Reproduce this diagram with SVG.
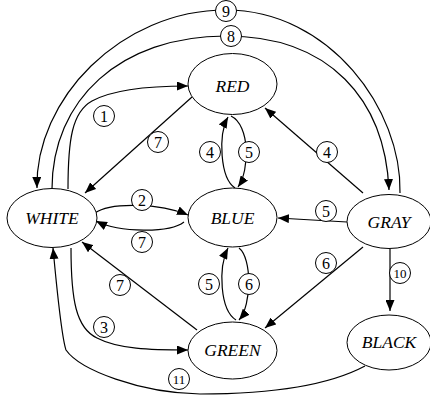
<svg xmlns="http://www.w3.org/2000/svg" width="430" height="405" viewBox="0 0 430 405">
  <defs>
    <marker id="arrow" markerUnits="userSpaceOnUse" markerWidth="11" markerHeight="9" refX="11" refY="4.5" orient="auto">
      <path d="M0,0 L11,4.5 L0,9 z" fill="#000"/>
    </marker>
    <style>
      .node ellipse { fill: #fff; stroke: #000; stroke-width: 1; }
      .node text { font-family: "Liberation Serif", "Times New Roman", serif; font-style: italic; font-size: 17.5px; text-anchor: middle; fill: #000; }
      .edge { fill: none; stroke: #000; stroke-width: 1.2; marker-end: url(#arrow); }
      .tag circle { fill: #fff; stroke: #000; stroke-width: 1; }
      .tag text { font-family: "Liberation Serif", "Times New Roman", serif; font-size: 16px; text-anchor: middle; fill: #000; }
      .tag text.two { font-size: 13px; }
    </style>
  </defs>
  <rect width="430" height="405" fill="#fff"/>

  <!-- connectors -->
  <g id="connectors">
    <!-- 9: GRAY -> WHITE (outer arc) -->
    <path class="edge" d="M400,193 C402,110 330,10 226,10 C120,10 35,100 37,188"/>
    <!-- 8: WHITE -> GRAY -->
    <path class="edge" d="M52,189 C52,100 120,36 226,36 C330,36 385,100 389,190"/>
    <!-- 1: WHITE -> RED -->
    <path class="edge" d="M68,189 C68,140 72,112 92,101 C112,90 150,86 188,86"/>
    <!-- 7: RED -> WHITE -->
    <path class="edge" d="M192,97 L85,193"/>
    <!-- 4: BLUE -> RED -->
    <path class="edge" d="M235,188 C220,178 218,135 228,117"/>
    <!-- 5: RED -> BLUE -->
    <path class="edge" d="M231,116 C250,125 250,170 238,187"/>
    <!-- 4: GRAY -> RED -->
    <path class="edge" d="M363,193 L265,108"/>
    <!-- 2: WHITE -> BLUE -->
    <path class="edge" d="M95,213 C110,202 160,203 188,215"/>
    <!-- 7: BLUE -> WHITE -->
    <path class="edge" d="M184,222 C170,233 120,233 96,221"/>
    <!-- 5: GRAY -> BLUE -->
    <path class="edge" d="M347,222 L278,218"/>
    <!-- 6: GRAY -> GREEN -->
    <path class="edge" d="M363,247 L265,328"/>
    <!-- 10: GRAY -> BLACK -->
    <path class="edge" d="M390,249 L390,311"/>
    <!-- 5: GREEN -> BLUE -->
    <path class="edge" d="M236,320 C220,310 218,268 228,248"/>
    <!-- 6: BLUE -> GREEN -->
    <path class="edge" d="M239,248 C252,258 252,305 239,320"/>
    <!-- 7: GREEN -> WHITE -->
    <path class="edge" d="M197,330 L82,242"/>
    <!-- 3: WHITE -> GREEN -->
    <path class="edge" d="M71,248 C71,300 76,328 97,338 C118,349 150,350 188,350"/>
    <!-- 11: BLACK -> WHITE -->
    <path class="edge" d="M365,366 C320,390 250,394 200,394 C140,393 80,370 66,350 C61,335 57,290 53,248"/>
  </g>

  <!-- nodes -->
  <g id="RED" class="node">
    <ellipse cx="232.5" cy="84" rx="44.5" ry="30.5"/>
    <text x="232.5" y="92">RED</text>
  </g>
  <g id="WHITE" class="node">
    <ellipse cx="52" cy="218" rx="45" ry="29.5"/>
    <text x="52" y="224">WHITE</text>
  </g>
  <g id="BLUE" class="node">
    <ellipse cx="232.5" cy="217.5" rx="44.5" ry="29.5"/>
    <text x="232.5" y="224">BLUE</text>
  </g>
  <g id="GRAY" class="node">
    <ellipse cx="389" cy="221.5" rx="42" ry="27"/>
    <text x="389" y="228">GRAY</text>
  </g>
  <g id="GREEN" class="node">
    <ellipse cx="232.5" cy="350.5" rx="44.5" ry="28.5"/>
    <text x="232.5" y="356">GREEN</text>
  </g>
  <g id="BLACK" class="node">
    <ellipse cx="389" cy="342.5" rx="42" ry="27.5"/>
    <text x="389" y="348">BLACK</text>
  </g>

  <!-- connector labels -->
  <g id="labels">
    <g class="tag"><circle cx="226" cy="11" r="10.5"/><text x="226" y="16.5">9</text></g>
    <g class="tag"><circle cx="231" cy="36" r="10.5"/><text x="231" y="41.5">8</text></g>
    <g class="tag"><circle cx="104" cy="116" r="10.5"/><text x="104" y="121.5">1</text></g>
    <g class="tag"><circle cx="158" cy="142" r="10.5"/><text x="158" y="147.5">7</text></g>
    <g class="tag"><circle cx="210" cy="152" r="10.5"/><text x="210" y="157.5">4</text></g>
    <g class="tag"><circle cx="249" cy="152" r="10.5"/><text x="249" y="157.5">5</text></g>
    <g class="tag"><circle cx="327" cy="152" r="10.5"/><text x="327" y="157.5">4</text></g>
    <g class="tag"><circle cx="142" cy="200" r="10.5"/><text x="142" y="205.5">2</text></g>
    <g class="tag"><circle cx="142" cy="242" r="10.5"/><text x="142" y="247.5">7</text></g>
    <g class="tag"><circle cx="326" cy="211" r="10.5"/><text x="326" y="216.5">5</text></g>
    <g class="tag"><circle cx="326" cy="263" r="10.5"/><text x="326" y="268.5">6</text></g>
    <g class="tag"><circle cx="400" cy="273" r="10.5"/><text class="two" x="400" y="277.5">10</text></g>
    <g class="tag"><circle cx="209" cy="284" r="10.5"/><text x="209" y="289.5">5</text></g>
    <g class="tag"><circle cx="249" cy="284" r="10.5"/><text x="249" y="289.5">6</text></g>
    <g class="tag"><circle cx="120" cy="285" r="10.5"/><text x="120" y="290.5">7</text></g>
    <g class="tag"><circle cx="104" cy="327" r="10.5"/><text x="104" y="332.5">3</text></g>
    <g class="tag"><circle cx="179" cy="379" r="10.5"/><text class="two" x="179" y="383.5">11</text></g>
  </g>
</svg>
